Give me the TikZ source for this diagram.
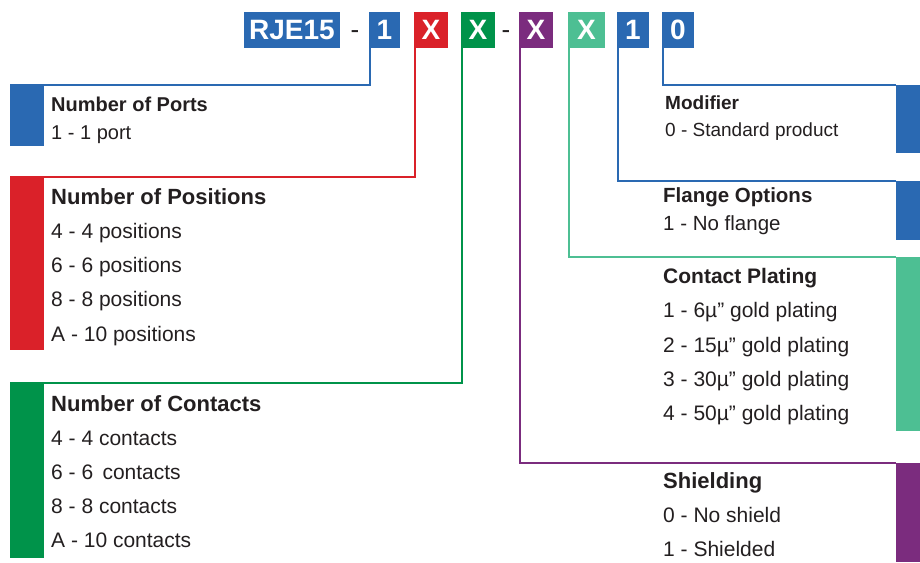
\documentclass[tikz,border=0pt]{standalone}
\usepackage{fontspec}
\setmainfont{Liberation Sans}
\usepackage{xcolor}
\usetikzlibrary{positioning}

\definecolor{rjblue}{HTML}{2A69B2}
\definecolor{rjred}{HTML}{DA2129}
\definecolor{rjgreen}{HTML}{00934A}
\definecolor{rjpurple}{HTML}{7B2C7E}
\definecolor{rjteal}{HTML}{4DBF93}
\definecolor{rjtext}{HTML}{231F20}

\tikzset{
  code/.style={fill=#1,text=white,inner sep=0pt,minimum height=36pt,
    font=\fontsize{28}{30}\selectfont\bfseries},
  dashsign/.style={anchor=base,text=rjtext,inner sep=0pt,font=\fontsize{26}{28}\selectfont},
  bar/.style={fill=#1,anchor=north west,inner sep=0pt},
  link/.style={draw=#1,line width=2pt,line join=miter},
  desc/.style={anchor=base west,inner sep=0pt,text=rjtext,
    font=\fontsize{#1}{25}\selectfont},
  desc/.default=21,
  head/.style={desc,font=\fontsize{#1}{25}\selectfont\bfseries},
  head/.default=21
}

\begin{document}
\begin{tikzpicture}[x=1pt,y=-1pt]
  \useasboundingbox (0,0) rectangle (920,562);

  % part number
  \node[code=rjblue,minimum width=96pt] (base) at (292,30) {RJE15};
  \node[dashsign] (dashA) at (355,38) {-};
  \node[code=rjblue,minimum width=31pt] (cports) at (384.5,30) {1};
  \node[code=rjred,minimum width=34pt] (cpos) at (431,30) {X};
  \node[code=rjgreen,minimum width=34pt] (ccont) at (478,30) {X};
  \node[dashsign] (dashB) at (506,38) {-};
  \node[code=rjpurple,minimum width=34pt] (cshield) at (536,30) {X};
  \node[code=rjteal,minimum width=37pt] (cplate) at (586.5,30) {X};
  \node[code=rjblue,minimum width=32pt] (cflange) at (633,30) {1};
  \node[code=rjblue,minimum width=32pt] (cmod) at (678,30) {0};

  % colour bars
  \node[bar=rjblue,minimum width=34pt,minimum height=61pt] (ports) at (10,85) {};
  \node[bar=rjred,minimum width=34pt,minimum height=173pt] (pos) at (10,177) {};
  \node[bar=rjgreen,minimum width=34pt,minimum height=175pt] (cont) at (10,383) {};
  \node[bar=rjblue,minimum width=24pt,minimum height=68pt] (mod) at (896,85) {};
  \node[bar=rjblue,minimum width=24pt,minimum height=59pt] (flange) at (896,181) {};
  \node[bar=rjteal,minimum width=24pt,minimum height=174pt] (plate) at (896,257) {};
  \node[bar=rjpurple,minimum width=24pt,minimum height=99pt] (shield) at (896,463) {};

  % connectors
  \draw[link=rjblue] ([xshift=1pt]cports.south west) |- (ports.north west);
  \draw[link=rjred] ([xshift=1pt]cpos.south west) |- (pos.north west);
  \draw[link=rjgreen] ([xshift=1pt]ccont.south west) |- (cont.north west);
  \draw[link=rjpurple] ([xshift=1pt]cshield.south west) |- (shield.north west);
  \draw[link=rjteal] ([xshift=1pt]cplate.south west) |- (plate.north west);
  \draw[link=rjblue] ([xshift=1pt]cflange.south west) |- (flange.north west);
  \draw[link=rjblue] ([xshift=1pt]cmod.south west) |- (mod.north west);

  % left texts
  \node[head=20] (portsH) at (51,111) {Number of Ports};
  \node[desc=20] (ports1) at (51,139) {1 - 1 port};

  \node[head=22] (posH) at (51,204) {Number of Positions};
  \node[desc] (pos1) at (51,238) {4 - 4 positions};
  \node[desc] (pos2) at (51,272) {6 - 6 positions};
  \node[desc] (pos3) at (51,306) {8 - 8 positions};
  \node[desc] (pos4) at (51,341) {A - 10 positions};

  \node[head=22] (contH) at (51,411) {Number of Contacts};
  \node[desc] (cont1) at (51,445) {4 - 4 contacts};
  \node[desc] (cont2) at (51,479) {6 - 6\, contacts};
  \node[desc] (cont3) at (51,513) {8 - 8 contacts};
  \node[desc] (cont4) at (51,547) {A - 10 contacts};

  % right texts
  \node[head=19] (modH) at (665,109) {Modifier};
  \node[desc=19] (mod1) at (665,136) {0 - Standard product};

  \node[head=20.5] (flangeH) at (663,202) {Flange Options};
  \node[desc=20.5] (flange1) at (663,230) {1 - No flange};

  \node[head] (plateH) at (663,283) {Contact Plating};
  \node[desc] (plate1) at (663,317) {1 - 6µ” gold plating};
  \node[desc] (plate2) at (663,352) {2 - 15µ” gold plating};
  \node[desc] (plate3) at (663,386) {3 - 30µ” gold plating};
  \node[desc] (plate4) at (663,420) {4 - 50µ” gold plating};

  \node[head=22] (shieldH) at (663,488) {Shielding};
  \node[desc] (shield1) at (663,522) {0 - No shield};
  \node[desc] (shield2) at (663,556) {1 - Shielded};
\end{tikzpicture}
\end{document}
